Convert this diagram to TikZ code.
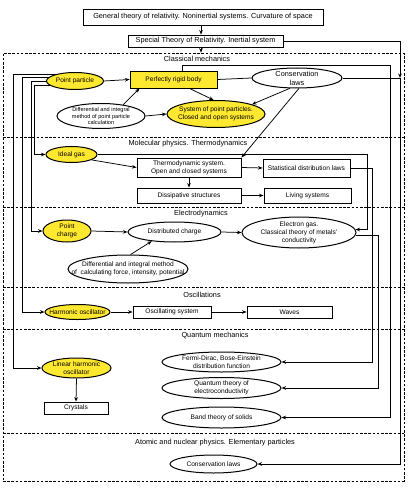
\documentclass[tikz,border=0pt]{standalone}
\usepackage{fontspec}
\setmainfont{Liberation Sans}
\usetikzlibrary{shapes.geometric,arrows.meta,calc}
\definecolor{yel}{RGB}{255,233,48}
\newcommand{\fa}{\fontsize{6.6pt}{8pt}\selectfont}
\newcommand{\fb}{\fontsize{5.6pt}{6.7pt}\selectfont}
\newcommand{\fh}{\fontsize{7.3pt}{9pt}\selectfont}
\tikzset{
  bx/.style={draw, line width=0.9pt, fill=white, inner sep=0pt, align=center, font=\fa},
  ybx/.style={bx, fill=yel},
  tbx/.style={bx, font=\fh},
  ell/.style={ellipse, draw, line width=1pt, fill=white, inner sep=0pt},
  yell/.style={ell, fill=yel},
  lab/.style={align=center, inner sep=0pt, font=\fa},
  slab/.style={align=center, inner sep=0pt, font=\fb},
  hdr/.style={inner sep=0pt, font=\fh},
  arr/.style={line width=0.75pt, -{Stealth[length=4.5pt,width=3.6pt]}},
  ln/.style={line width=0.75pt},
  sepline/.style={line width=0.6pt, dash pattern=on 2.6pt off 1.6pt},
}
\begin{document}
\begin{tikzpicture}[x=1pt,y=-1pt]
\useasboundingbox (0,0) rectangle (411,489);
% frame
\node[draw, sepline, minimum width=401pt, minimum height=428pt, inner sep=0pt] (outer) at (203.5,267) {};
\draw[sepline] (3,137) -- (404,137);
\draw[sepline] (3,207) -- (404,207);
\draw[sepline] (3,287) -- (404,287);
\draw[sepline] (3,329) -- (404,329);
\draw[sepline] (3,433) -- (404,433);
% headers
\node[hdr] (hcm) at (197,59) {Classical mechanics};
\node[hdr] (hmp) at (188,144) {Molecular physics. Thermodynamics};
\node[hdr] (hed) at (201,214) {Electrodynamics};
\node[hdr] (hos) at (202,295) {Oscillations};
\node[hdr] (hqm) at (215,336) {Quantum mechanics};
\node[hdr] (han) at (215,443) {Atomic and nuclear physics. Elementary particles};
% top
\node[tbx, minimum width=240pt, minimum height=16pt] (gen) at (203,17) {General theory of relativity. Noninertial systems. Curvature of space};
\node[tbx, minimum width=155pt, minimum height=12pt] (spec) at (205.5,41) {Special Theory of Relativity. Inertial system};
% classical mechanics
\node[yell, minimum width=57pt, minimum height=17pt, label={[lab]center:Point particle}] (pp) at (75,81) {};
\node[ybx, minimum width=87pt, minimum height=17pt] (rig) at (173.5,79.5) {Perfectly rigid body};
\node[ell, minimum width=90pt, minimum height=20pt, label={[lab,font=\fh]center:{Conservation\\laws}}] (cons) at (297,78) {};
\node[ell, minimum width=88pt, minimum height=25pt, label={[slab]center:{Differential and integral\\method of point particle\\calculation}}] (diff1) at (101,116) {};
\node[yell, minimum width=98pt, minimum height=27pt, label={[lab]center:{System of point particles.\\Closed and open systems}}] (sys) at (216,114) {};
% molecular
\node[yell, minimum width=51pt, minimum height=16pt, label={[lab]center:Ideal gas}] (ideal) at (71.5,154.5) {};
\node[bx, minimum width=104pt, minimum height=19pt] (thermo) at (189,167.5) {Thermodynamic system.\\Open and closed systems};
\node[bx, minimum width=87pt, minimum height=18pt] (stat) at (306.5,168) {Statistical distribution laws};
\node[bx, minimum width=104pt, minimum height=15pt] (diss) at (189,195.5) {Dissipative structures};
\node[bx, minimum width=87pt, minimum height=15pt] (living) at (307.5,195.5) {Living systems};
% electrodynamics
\node[yell, minimum width=48pt, minimum height=22pt, label={[lab]center:{Point\\charge}}] (pc) at (67,231) {};
\node[ell, minimum width=93pt, minimum height=20pt, label={[lab]center:Distributed charge}] (dist) at (174.5,232) {};
\node[ell, minimum width=114pt, minimum height=31pt, label={[lab]center:{Electron gas.\\Classical theory of metals'\\conductivity}}] (egas) at (299,232.5) {};
\node[ell, minimum width=120pt, minimum height=28pt, label={[lab]center:{Differential and integral method\\of\ \ calculating force, intensity, potential}}] (diff2) at (128,269) {};
% oscillations
\node[yell, minimum width=65pt, minimum height=15pt, label={[lab]center:Harmonic oscillator}] (ho) at (77.5,312) {};
\node[bx, minimum width=78pt, minimum height=12pt] (osc) at (172,312) {Oscillating system};
\node[bx, minimum width=85pt, minimum height=12pt] (waves) at (289.5,312) {Waves};
% quantum
\node[ell, minimum width=119pt, minimum height=20pt, label={[lab]center:{Fermi-Dirac, Bose-Einstein\\distribution function}}] (fd) at (221.5,362) {};
\node[yell, minimum width=69pt, minimum height=20pt, label={[lab]center:{Linear harmonic\\oscillator}}] (lho) at (76.5,368) {};
\node[ell, minimum width=119pt, minimum height=21pt, label={[lab]center:{Quantum theory of\\electroconductivity}}] (qt) at (221.5,388) {};
\node[bx, minimum width=64pt, minimum height=12pt] (cryst) at (76,408) {Crystals};
\node[ell, minimum width=119pt, minimum height=21pt, label={[lab]center:Band theory of solids}] (band) at (221.5,417.5) {};
% atomic
\node[ell, minimum width=87pt, minimum height=18pt, label={[lab]center:Conservation laws}] (cl2) at (213.5,464) {};
% helper coordinates
\coordinate (AX) at (201,0);
\coordinate (L1) at (13,0);
\coordinate (L2) at (22,0);
\coordinate (L3) at (31,0);
\coordinate (L4) at (34,0);
\coordinate (R1) at (367,0);
\coordinate (R2) at (372,0);
\coordinate (R3) at (378,0);
\coordinate (R4) at (390,65);
\coordinate (R5) at (400,0);
% top arrows
\draw[arr] (gen.south -| AX) -- (spec.north -| AX);
\draw[arr] (spec.south -| AX) -- (outer.north -| AX);
\draw[arr] (spec.east) -| (R5 |- cons.east);
% classical
\draw[arr] (pp.east) -- (rig.west);
\draw[ln] (rig.east) -- (cons.west);
\draw[arr] (diff1.27) -- ($(rig.south west)+(10,0)$);
\draw[arr] (diff1.east) -- (sys.west);
\draw[arr] ($(rig.south)+(16,0)$) -- (sys.100);
\draw[arr] (cons.235) -- (sys.15);
\draw[arr] (cons.280) -- (thermo.north east);
% left bus
\draw[arr] (pp.160) -| (L1 |- lho.west) -- (lho.west);
\draw[arr] (pp.172) -| (L2 |- ho.west) -- (ho.west);
\draw[arr] (pp.180) -| (L3 |- pc.west) -- (pc.west);
\draw[arr] (pp.190) -| (L4 |- ideal.west) -- (ideal.west);
% molecular
\draw[arr] (ideal.-15) -- (thermo.west);
\draw[arr] (thermo.east) -- (stat.west);
\draw[arr] (thermo.south) -- (diss.north);
\draw[arr] (diss.east) -- (living.west);
% electro
\draw[arr] (pc.east) -- (dist.west);
\draw[arr] (dist.east) -- (egas.west);
\draw[arr] (diff2.80) -- (dist.202);
% oscillations
\draw[arr] (ho.east) -- (osc.west);
\draw[arr] (osc.east) -- (waves.west);
% quantum
\draw[arr] (lho.south) -- (cryst.north);
% right bus
\draw[arr] (ideal.east) -| (R1 |- egas.3) -- (egas.3);
\draw[arr] (stat.east) -| (R2 |- fd.east) -- (fd.east);
\draw[arr] (egas.-3) -| (R3 |- qt.east) -- (qt.east);
\draw[arr] ($(rig.north)+(8.5,0)$) |- (R4) |- (band.east);
\draw[arr] (cons.east) -| (R5 |- cl2.east) -- (cl2.east);
\end{tikzpicture}
\end{document}
